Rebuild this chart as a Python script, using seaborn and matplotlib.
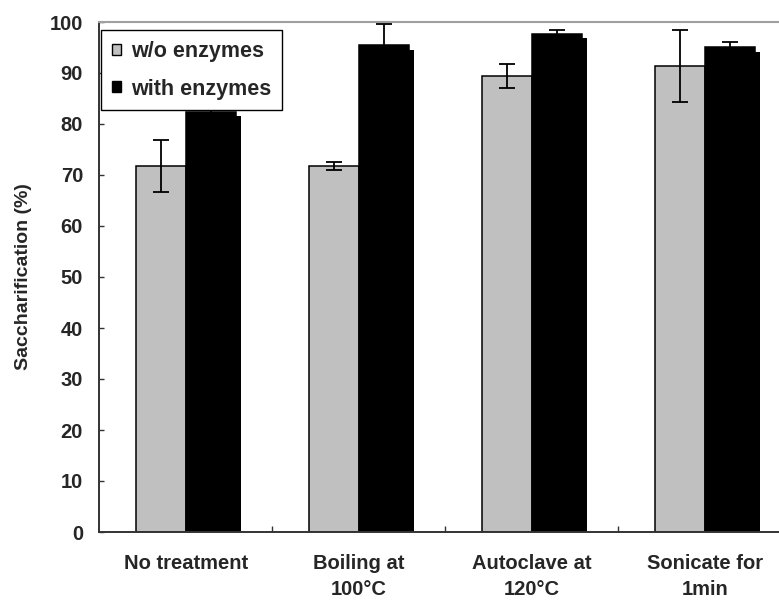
import matplotlib
matplotlib.use("Agg")
import matplotlib.pyplot as plt
import matplotlib.patches as mpatches
import matplotlib.patheffects as pe
from matplotlib.ticker import FixedLocator
import numpy as np
import pandas as pd
import seaborn as sns

# Saccharification after each pretreatment, with and without enzymes
categories = ["No treatment", "Boiling at\n100°C", "Autoclave at\n120°C", "Sonicate for\n1min"]
series_names = ["w/o enzymes", "with enzymes"]
without_enzymes = [71.8, 71.8, 89.4, 91.4]
with_enzymes = [82.4, 95.4, 97.7, 95.0]
err_without = [5.1, 0.8, 2.4, 7.1]
err_with = [3.5, 4.2, 0.7, 1.1]
y_ticks = [0, 10, 20, 30, 40, 50, 60, 70, 80, 90, 100]

df = pd.DataFrame({
    "treatment": categories * 2,
    "series": [series_names[0]] * len(categories) + [series_names[1]] * len(categories),
    "value": without_enzymes + with_enzymes,
})

sns.set_style("white")
plt.rcParams["font.family"] = ["Liberation Sans", "DejaVu Sans"]
plt.rcParams["font.weight"] = "bold"

DPI = 100
fig = plt.figure(figsize=(7.79, 6.00), dpi=DPI)
W, H = 779, 600
ax = fig.add_axes([99 / W, 68 / H, 692.5 / W, 510 / H])

palette = {series_names[0]: "#c0c0c0", series_names[1]: "#000000"}
sns.barplot(data=df, x="treatment", y="value", hue="series", palette=palette,
            order=categories, hue_order=series_names, errorbar=None,
            width=0.577, gap=0, saturation=1, edgecolor="black", linewidth=1.1,
            legend=False, ax=ax)

# drop shadow behind the dark bars
shadow = [pe.SimplePatchShadow(offset=(3.6, -3.3), shadow_rgbFace="black", alpha=1.0), pe.Normal()]
for bar in ax.containers[1]:
    bar.set_path_effects(shadow)

# error bars on each bar
for cont, errs in zip(ax.containers, [err_without, err_with]):
    xs = [b.get_x() + b.get_width() / 2 for b in cont]
    hs = [b.get_height() for b in cont]
    ax.errorbar(xs, hs, yerr=errs, fmt="none", ecolor="black", elinewidth=1.3,
                capsize=5.6, capthick=1.3, zorder=3)

ax.set_ylim(0, 100)
ax.set_xlim(-0.5, 3.5)
ax.set_yticks(y_ticks)
ax.set_yticklabels([str(t) for t in y_ticks])
ax.set_xticks(range(len(categories)))
ax.set_xticklabels(categories, linespacing=1.5)
ax.xaxis.set_minor_locator(FixedLocator([0.5, 1.5, 2.5]))

ax.tick_params(axis="x", which="major", length=0, pad=15.5, labelsize=14.5)
ax.tick_params(axis="x", which="minor", direction="in", length=4.3, width=1.0,
               color="#333333", bottom=True)
ax.tick_params(axis="y", which="major", direction="in", length=3.6, width=1.0,
               color="#333333", pad=11.5, labelsize=14.5, left=True)
for lbl in ax.get_xticklabels() + ax.get_yticklabels():
    lbl.set_fontweight("bold")

ax.set_xlabel("")
ax.set_ylabel("Saccharification (%)", fontsize=14, fontweight="bold", labelpad=13)

for side in ["left", "bottom"]:
    ax.spines[side].set_color("#333333")
    ax.spines[side].set_linewidth(1.4)
ax.spines["top"].set_color("#a0a0a0")
ax.spines["top"].set_linewidth(1.5)
ax.spines["right"].set_visible(False)

handles = [mpatches.Patch(facecolor=palette[n], edgecolor="black", linewidth=1.0, label=n)
           for n in series_names]
leg = ax.legend(handles=handles, loc="upper left",
                bbox_to_anchor=(101 / W, (H - 30) / H), bbox_transform=fig.transFigure,
                borderaxespad=0, frameon=True, fancybox=False, framealpha=1,
                edgecolor="black", prop={"size": 15.5, "weight": "bold"},
                handlelength=0.45, handleheight=0.4, handletextpad=0.45,
                labelspacing=0.78, borderpad=0.5)
leg.get_frame().set_linewidth(1.0)
leg.set_zorder(10)

fig.savefig("out.png", dpi=DPI)
